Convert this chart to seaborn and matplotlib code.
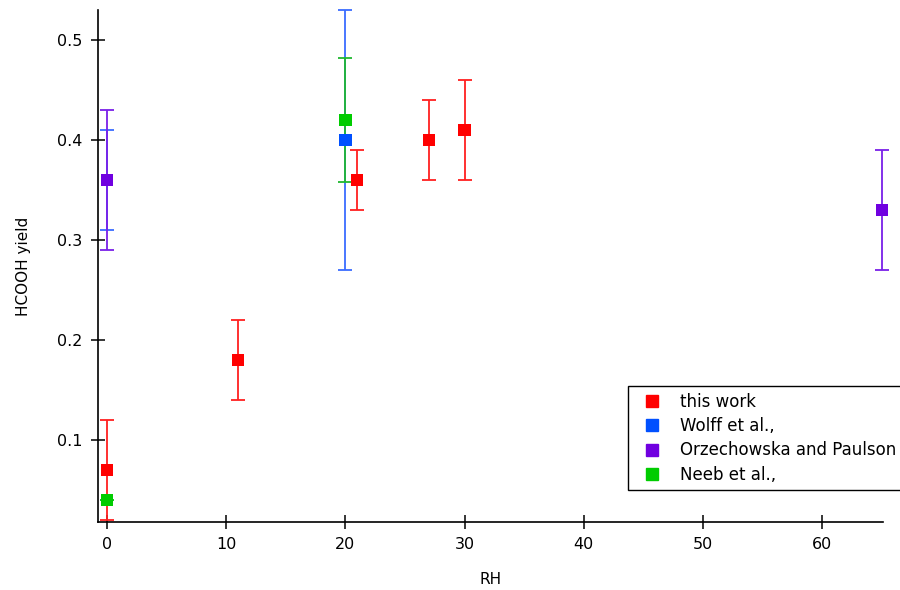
import matplotlib
matplotlib.use("Agg")
import matplotlib.pyplot as plt
import seaborn as sns
import pandas as pd

# ---- data ----
series_names = ["this work", "Wolff et al.,", "Orzechowska and Paulson", "Neeb et al.,"]
series_colors = ["#ff0000", "#0050ff", "#7000e0", "#00cc00"]
err_colors = ["#ff2020", "#3a6cff", "#7a20e8", "#20b830"]

this_rh = [0, 11, 21, 27, 30]
this_y = [0.07, 0.18, 0.36, 0.40, 0.41]
this_lo = [0.02, 0.14, 0.33, 0.36, 0.36]
this_hi = [0.12, 0.22, 0.39, 0.44, 0.46]

wolff_rh = [0, 20]
wolff_y = [0.36, 0.40]
wolff_lo = [0.31, 0.27]
wolff_hi = [0.41, 0.53]

orz_rh = [0, 65]
orz_y = [0.36, 0.33]
orz_lo = [0.29, 0.27]
orz_hi = [0.43, 0.39]

neeb_rh = [0, 20]
neeb_y = [0.04, 0.42]
neeb_lo = [0.04, 0.358]
neeb_hi = [0.04, 0.482]

x_ticks = [0, 10, 20, 30, 40, 50, 60]
y_ticks = [0.1, 0.2, 0.3, 0.4, 0.5]

all_rh = [this_rh, wolff_rh, orz_rh, neeb_rh]
all_y = [this_y, wolff_y, orz_y, neeb_y]
all_lo = [this_lo, wolff_lo, orz_lo, neeb_lo]
all_hi = [this_hi, wolff_hi, orz_hi, neeb_hi]

rows = []
for name, xs, ys in zip(series_names, all_rh, all_y):
    for xv, yv in zip(xs, ys):
        rows.append({"RH": xv, "yield": yv, "source": name})
df = pd.DataFrame(rows)

sns.set_theme(style="ticks")
plt.rcParams["font.family"] = ["DejaVu Sans"]
plt.rcParams["text.color"] = "black"
plt.rcParams["axes.labelcolor"] = "black"
plt.rcParams["xtick.color"] = "black"
plt.rcParams["ytick.color"] = "black"

fig = plt.figure(figsize=(9, 5.9), dpi=100)
ax = fig.add_axes([98 / 900, 1 - 522 / 590, (883 - 98) / 900, (522 - 10) / 590])

for name, xs, ys, lo, hi, ec in zip(series_names, all_rh, all_y, all_lo, all_hi, err_colors):
    yerr = [[y - l for y, l in zip(ys, lo)], [h - y for y, h in zip(ys, hi)]]
    if max(max(r) for r in yerr) > 0:
        eb = ax.errorbar(xs, ys, yerr=yerr, fmt="none", ecolor=ec, elinewidth=1.3,
                         capsize=5, capthick=1.3, zorder=1)
        for art in eb.get_children():
            art.set_clip_on(False)

sns.scatterplot(data=df, x="RH", y="yield", hue="source", hue_order=series_names,
                palette=dict(zip(series_names, series_colors)), marker="s", s=80,
                edgecolor="none", linewidth=0, ax=ax, zorder=2, clip_on=False,
                legend=False)

ax.set_xlim(-0.75, 65.1)
ax.set_ylim(0.018, 0.53)
ax.set_xticks(x_ticks)
ax.set_yticks(y_ticks)
ax.set_xticklabels([str(v) for v in x_ticks])
ax.set_yticklabels([f"{v:.1f}" for v in y_ticks])
ax.set_xlabel("RH", fontsize=11, labelpad=14)
ax.set_ylabel("HCOOH yield", fontsize=11, labelpad=19)
ax.tick_params(axis="both", labelsize=11.5, direction="inout", length=10, width=1.1,
               color="black", pad=6)
for s in ["top", "right"]:
    ax.spines[s].set_visible(False)
for s in ["left", "bottom"]:
    ax.spines[s].set_color("black")
    ax.spines[s].set_linewidth(1.2)

handles = [plt.Line2D([], [], marker="s", linestyle="none", color=c, markersize=8.5)
           for c in series_colors]
leg = ax.legend(handles, series_names, loc="lower left",
                bbox_to_anchor=(628 / 900, 1 - 490 / 590), bbox_transform=fig.transFigure,
                frameon=True, fancybox=False, fontsize=12, handletextpad=0.65,
                borderpad=0.38, labelspacing=0.38, handlelength=2.1, borderaxespad=0)
leg.get_frame().set_edgecolor("black")
leg.get_frame().set_linewidth(1.0)
leg.get_frame().set_alpha(1)

fig.savefig("out.png", dpi=100)
